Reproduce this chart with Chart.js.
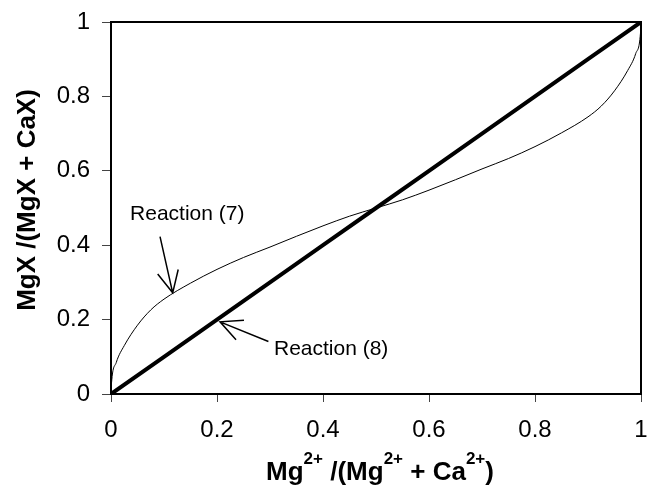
<!DOCTYPE html>
<html>
<head>
<meta charset="utf-8">
<script src="https://cdn.jsdelivr.net/npm/chart.js@4/dist/chart.umd.min.js"></script>
<style>
html,body{margin:0;padding:0;background:#fff;}
#wrap{width:648px;height:489px;position:relative;}
</style>
</head>
<body>
<div id="wrap"><canvas id="c" width="648" height="489"></canvas></div>
<script>
// Reaction (7): thin curve
const r7X = [0, 0.001, 0.01, 0.025, 0.05, 0.075, 0.1, 0.15, 0.2, 0.25, 0.3, 0.35, 0.4, 0.45, 0.5,
             0.55, 0.6, 0.65, 0.7, 0.75, 0.8, 0.85, 0.9, 0.925, 0.95, 0.975, 0.99, 0.999, 1];
const r7Y = [0, 0.03, 0.085, 0.13, 0.185, 0.226, 0.255, 0.298, 0.335, 0.367, 0.395, 0.424, 0.452, 0.478, 0.5,
             0.522, 0.548, 0.576, 0.605, 0.633, 0.665, 0.702, 0.745, 0.774, 0.815, 0.87, 0.915, 0.97, 1];
// Reaction (8): thick straight line
const r8X = [0, 0.1, 0.2, 0.3, 0.4, 0.5, 0.6, 0.7, 0.8, 0.9, 1];
const r8Y = [0, 0.1, 0.2, 0.3, 0.4, 0.5, 0.6, 0.7, 0.8, 0.9, 1];
// Tick labels
const xTickLabels = ["0", "0.2", "0.4", "0.6", "0.8", "1"];
const yTickLabels = ["0", "0.2", "0.4", "0.6", "0.8", "1"];
// Annotations (data coordinates)
const annoTexts = ["Reaction (7)", "Reaction (8)"];
const annoTextX = [0.036, 0.3075];
const annoTextY = [0.468, 0.105];
const arrowTailX = [0.0925, 0.297];
const arrowTailY = [0.423, 0.141];
const arrowTipX = [0.1164, 0.2057];
const arrowTipY = [0.272, 0.194];

const toPts = (xs, ys) => xs.map((x, i) => ({x: x, y: ys[i]}));
const FONT = "'Liberation Sans', Arial, sans-serif";

const extras = {
  id: 'extras',
  afterDraw(chart) {
    const ctx = chart.ctx;
    const a = chart.chartArea;
    const xs = chart.scales.x, ys = chart.scales.y;
    ctx.save();
    // frame
    ctx.strokeStyle = '#000';
    ctx.lineWidth = 2;
    ctx.strokeRect(a.left, a.top, a.right - a.left, a.bottom - a.top);
    // arrows
    ctx.lineWidth = 1.5;
    for (let i = 0; i < arrowTipX.length; i++) {
      const tx = xs.getPixelForValue(arrowTailX[i]), ty = ys.getPixelForValue(arrowTailY[i]);
      const hx = xs.getPixelForValue(arrowTipX[i]), hy = ys.getPixelForValue(arrowTipY[i]);
      const ang = Math.atan2(ty - hy, tx - hx);
      const L = 24, h = 26 * Math.PI / 180;
      ctx.beginPath();
      ctx.moveTo(tx, ty); ctx.lineTo(hx, hy);
      ctx.moveTo(hx + L * Math.cos(ang + h), hy + L * Math.sin(ang + h));
      ctx.lineTo(hx, hy);
      ctx.lineTo(hx + L * Math.cos(ang - h), hy + L * Math.sin(ang - h));
      ctx.stroke();
    }
    // annotation text
    ctx.fillStyle = '#000';
    ctx.font = "21px " + FONT;
    ctx.textBaseline = 'alphabetic';
    ctx.textAlign = 'left';
    for (let i = 0; i < annoTexts.length; i++) {
      ctx.fillText(annoTexts[i], xs.getPixelForValue(annoTextX[i]), ys.getPixelForValue(annoTextY[i]));
    }
    // y title
    ctx.save();
    ctx.translate(35, 200);
    ctx.rotate(-Math.PI / 2);
    ctx.font = "bold 26px " + FONT;
    ctx.textAlign = 'center';
    ctx.fillText("MgX /(MgX + CaX)", 0, 0);
    ctx.restore();
    // x title with superscripts
    const parts = [["Mg", 0], ["2+", 1], [" /(Mg", 0], ["2+", 1], [" + Ca", 0], ["2+", 1], [")", 0]];
    const big = "bold 26px " + FONT, small = "bold 17px " + FONT;
    let w = 0;
    parts.forEach(p => { ctx.font = p[1] ? small : big; w += ctx.measureText(p[0]).width; });
    let x = 380 - w / 2;
    const base = 480;
    ctx.textAlign = 'left';
    parts.forEach(p => {
      ctx.font = p[1] ? small : big;
      ctx.fillText(p[0], x, p[1] ? base - 16 : base);
      x += ctx.measureText(p[0]).width;
    });
    ctx.restore();
  }
};

new Chart(document.getElementById('c'), {
  type: 'scatter',
  data: {
    datasets: [
      {label: 'Reaction (7)', data: toPts(r7X, r7Y), showLine: true, borderColor: '#000', borderWidth: 1,
       pointRadius: 0, cubicInterpolationMode: 'monotone', fill: false},
      {label: 'Reaction (8)', data: toPts(r8X, r8Y), showLine: true, borderColor: '#000', borderWidth: 4,
       pointRadius: 0, tension: 0, fill: false}
    ]
  },
  options: {
    responsive: false,
    animation: false,
    layout: {padding: {left: 0, right: 7, top: 22, bottom: 0}},
    plugins: {legend: {display: false}, tooltip: {enabled: false}},
    scales: {
      x: {
        type: 'linear', min: 0, max: 1,
        afterFit(s) { s.height = 95; s.paddingLeft = 0; s.paddingRight = 0; },
        afterBuildTicks(s) { s.ticks = xTickLabels.map(t => ({value: parseFloat(t)})); },
        ticks: {color: '#000', font: {size: 24, family: FONT}, padding: 14,
                callback: (v, i) => xTickLabels[i]},
        grid: {drawOnChartArea: false, drawTicks: true, tickLength: 8, color: '#444', lineWidth: 1},
        border: {display: true, color: '#000', width: 2}
      },
      y: {
        type: 'linear', min: 0, max: 1,
        afterFit(s) { s.width = 111; s.paddingTop = 0; s.paddingBottom = 0; },
        afterBuildTicks(s) { s.ticks = yTickLabels.map(t => ({value: parseFloat(t)})); },
        ticks: {color: '#000', font: {size: 24, family: FONT}, padding: 12,
                callback: (v, i) => yTickLabels[i]},
        grid: {drawOnChartArea: false, drawTicks: true, tickLength: 9, color: '#444', lineWidth: 1},
        border: {display: true, color: '#000', width: 2}
      }
    }
  },
  plugins: [extras]
});
</script>
</body>
</html>
